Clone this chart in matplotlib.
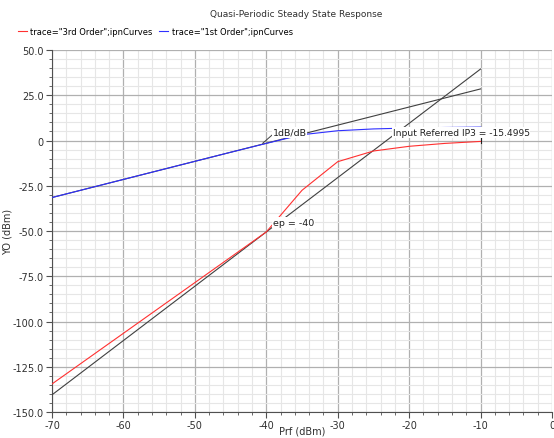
import numpy as np
import matplotlib
matplotlib.use("Agg")
import matplotlib.pyplot as plt
from matplotlib.ticker import MultipleLocator, FuncFormatter

# Input sweep (dBm)
prf = [-70, -65, -60, -55, -50, -45, -40, -35, -30, -25, -20, -15, -10]

# Simulated outputs (dBm)
third_order = [-134.5, -120.5, -106.5, -92.5, -78.5, -64.5, -50.5, -27.5, -11.7,
               -5.8, -3.2, -1.6, -0.5]
first_order = [-31.5, -26.5, -21.5, -16.5, -11.5, -6.5, -1.6, 3.2, 5.4,
               6.4, 6.9, 7.2, 7.4]

# Extrapolated lines
ext_x = [-70, -10]
ext_1st = [-31.5, 28.5]
ext_3rd = [-140.5, 39.5]

ip3 = -15.4995
ep = -40

plt.rcParams["font.family"] = "DejaVu Sans"
plt.rcParams["font.size"] = 7

fig = plt.figure(figsize=(5.54, 4.39), dpi=100)
ax = fig.add_axes([0.0939, 0.0592, 0.9025, 0.8246])

ax.plot(ext_x, ext_1st, color="#404040", lw=0.8, zorder=3)
ax.plot(ext_x, ext_3rd, color="#404040", lw=0.8, zorder=3)
ax.plot(prf, third_order, color="#ff3030", lw=0.8, zorder=4,
        label='trace="3rd Order";ipnCurves')
ax.plot(prf, first_order, color="#3030ff", lw=0.8, zorder=4,
        label='trace="1st Order";ipnCurves')

box = dict(facecolor="white", edgecolor="none", pad=0.5)
ax.plot([-40.5, -39.2], [-1.5, 3.0], color="#404040", lw=0.7, zorder=5)
ax.text(-39.1, 4.5, "1dB/dB", fontsize=6.8, va="center", ha="left",
        color="#202020", bbox=box, zorder=6)
ax.text(-39.1, -45.3, "ep = %d" % ep, fontsize=6.8, va="center", ha="left",
        color="#202020", bbox=box, zorder=6)
ax.text(-22.3, 4.4, "Input Referred IP3 = %.4f" % ip3, fontsize=6.6,
        va="center", ha="left", color="#202020", bbox=box, zorder=6,
        clip_on=False)
ax.plot([-10, -10], [2.0, -1.5], color="#202020", lw=0.8, zorder=5)

ax.set_xlim(-70, 0)
ax.set_ylim(-150, 50)
ax.xaxis.set_major_locator(MultipleLocator(10))
ax.xaxis.set_minor_locator(MultipleLocator(2))
ax.yaxis.set_major_locator(MultipleLocator(25))
ax.yaxis.set_minor_locator(MultipleLocator(5))
ax.yaxis.set_major_formatter(FuncFormatter(lambda v, p: "0" if v == 0 else "%.1f" % v))
ax.xaxis.set_major_formatter(FuncFormatter(lambda v, p: "%d" % v))

ax.grid(which="major", color="#b0b0b0", lw=0.9)
ax.grid(which="minor", color="#e6e6e6", lw=0.8)
ax.set_axisbelow(True)

for side in ["top", "right"]:
    ax.spines[side].set_visible(False)
for side in ["left", "bottom"]:
    ax.spines[side].set_color("#505050")
ax.tick_params(which="major", length=4, color="#505050", labelsize=7,
               labelcolor="#303030", pad=2)
ax.tick_params(which="minor", length=2, color="#505050")

ax.set_xlabel("Prf (dBm)", fontsize=7, color="#303030")
ax.set_ylabel("YO (dBm)", fontsize=7, color="#303030")
ax.xaxis.set_label_coords(0.5, -0.038)
ax.yaxis.set_label_coords(-0.079, 0.5)

fig.text(0.535, 0.968, "Quasi-Periodic Steady State Response", fontsize=6.5,
         ha="center", va="center", color="#303030")
fig.legend(loc="upper left", bbox_to_anchor=(0.032, 0.937), ncol=2,
           frameon=False, fontsize=6, handlelength=1.1, handletextpad=0.4,
           columnspacing=0.8, borderaxespad=0, borderpad=0)

fig.savefig("out.png", dpi=100)
